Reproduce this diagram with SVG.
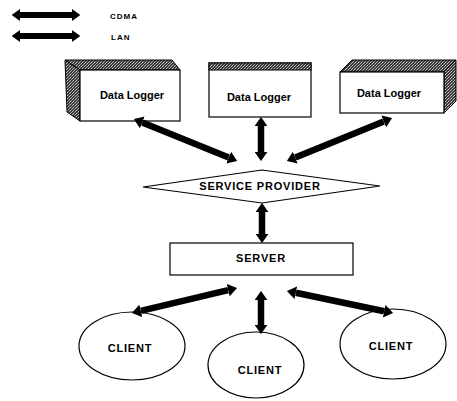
<svg xmlns="http://www.w3.org/2000/svg" width="457" height="401" viewBox="0 0 457 401">
  <style>
    text { font-family: "Liberation Sans", Arial, sans-serif; font-weight: bold; fill: #000; text-anchor: middle; }
    .lbl { font-size: 11px; }
    .cap { font-size: 11px; letter-spacing: 0.8px; }
    .leg { font-size: 8px; letter-spacing: 1px; text-anchor: start; }
    .outline { fill: #fff; stroke: #000; stroke-width: 1.2; }
    .shade { fill: url(#stipple); stroke: #000; stroke-width: 1; }
    .link { stroke: #000; stroke-width: 6.5; fill: none; marker-start: url(#head); marker-end: url(#head); }
    .link.small { stroke-width: 6; }
  </style>
  <defs>
    <!-- halftone texture for the 3D faces of the boxes -->
    <pattern id="stipple" width="3" height="3" patternUnits="userSpaceOnUse">
      <rect width="3" height="3" fill="#3a3a3a"/>
      <rect x="0" y="0" width="1" height="1" fill="#bbb"/>
      <rect x="2" y="1" width="1" height="1" fill="#999"/>
      <rect x="1" y="2" width="1" height="1" fill="#ccc"/>
    </pattern>
    <!-- arrowhead placed at the end of the shaft, scaled by stroke width -->
    <marker id="head" viewBox="0 0 10 14" refX="0" refY="7" markerWidth="1.4" markerHeight="2" markerUnits="strokeWidth" orient="auto-start-reverse">
      <path d="M0,0 L10,7 L0,14 Z" fill="#000"/>
    </marker>
  </defs>

  <!-- legend -->
  <g id="legend">
    <line class="link small" x1="20" y1="15" x2="72" y2="15"/>
    <line class="link small" x1="20" y1="36" x2="72" y2="36"/>
    <text class="leg" x="110" y="19">CDMA</text>
    <text class="leg" x="111" y="40">LAN</text>
  </g>

  <!-- data loggers -->
  <g id="logger-left">
    <polygon class="shade" points="65,60 172,60 180,70 80,70"/>
    <polygon class="shade" points="65,60 80,70 80,121 67,112"/>
    <rect class="outline" x="80" y="70" width="100" height="51"/>
    <text class="lbl" x="132" y="99">Data Logger</text>
  </g>
  <g id="logger-middle">
    <rect class="outline" x="209" y="63" width="102" height="54"/>
    <rect class="shade" x="209" y="63" width="102" height="7"/>
    <text class="lbl" x="259" y="101">Data Logger</text>
  </g>
  <g id="logger-right">
    <polygon class="shade" points="340,72 352,60 456,60 444,72"/>
    <polygon class="shade" points="444,72 456,60 456,101 444,113"/>
    <rect class="outline" x="340" y="72" width="104" height="41"/>
    <text class="lbl" x="389" y="97">Data Logger</text>
  </g>

  <!-- service provider -->
  <g id="service-provider">
    <polygon class="outline" points="143,187 262,170 380,186 262,203"/>
    <text class="cap" x="260" y="190">SERVICE PROVIDER</text>
  </g>

  <!-- server -->
  <g id="server">
    <rect class="outline" x="170" y="243" width="183" height="32"/>
    <text class="cap" x="261" y="262">SERVER</text>
  </g>

  <!-- clients -->
  <g id="client-left">
    <ellipse class="outline" cx="132" cy="346" rx="53" ry="34"/>
    <text class="cap" x="130" y="352">CLIENT</text>
  </g>
  <g id="client-middle">
    <ellipse class="outline" cx="256" cy="365" rx="48" ry="33"/>
    <text class="cap" x="260" y="374">CLIENT</text>
  </g>
  <g id="client-right">
    <ellipse class="outline" cx="393" cy="344" rx="53" ry="35"/>
    <text class="cap" x="391" y="350">CLIENT</text>
  </g>

  <!-- connectors -->
  <g id="connectors">
    <line class="link" x1="142.3" y1="122.4" x2="228.7" y2="157.6"/>
    <line class="link" x1="261" y1="126" x2="261" y2="152"/>
    <line class="link" x1="383.7" y1="121.4" x2="295.3" y2="157.6"/>
    <line class="link" x1="262" y1="212" x2="262" y2="234"/>
    <line class="link" x1="228.2" y1="290.1" x2="140.8" y2="310.9"/>
    <line class="link" x1="261" y1="300" x2="261" y2="325"/>
    <line class="link" x1="295.8" y1="292.8" x2="384.2" y2="311.2"/>
  </g>
</svg>
